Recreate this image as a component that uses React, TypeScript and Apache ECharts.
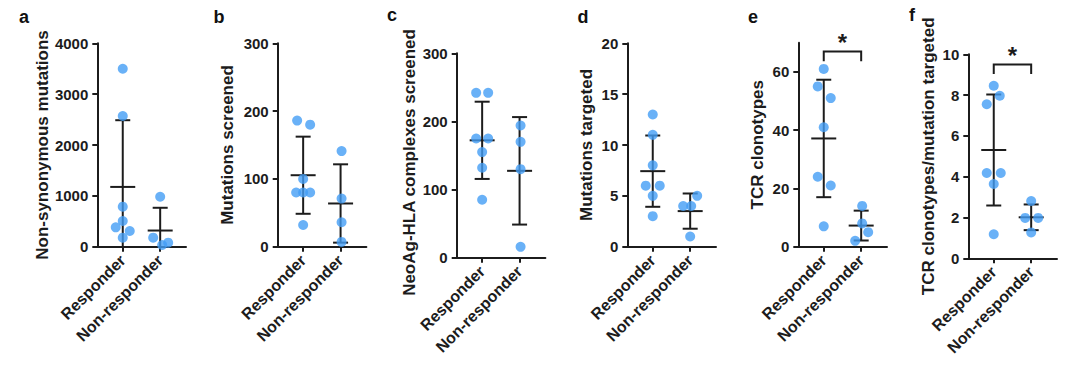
import React, { useEffect, useRef } from "react";
import * as echarts from "echarts";

const categories = ["Responder", "Non-responder"];
const panelLetters = ["a", "b", "c", "d", "e", "f"];
const yTitles = [
  "Non-synonymous mutations",
  "Mutations screened",
  "NeoAg-HLA complexes screened",
  "Mutations targeted",
  "TCR clonotypes",
  "TCR clonotypes/mutation targeted",
];

// values per panel (responder / non-responder)
const nonsynResponder = [3500, 2570, 787, 505, 381, 309, 177];
const nonsynNonResponder = [983, 177, 33, 79];
const screenedResponder = [186, 180, 100, 80, 80, 80, 32];
const screenedNonResponder = [141, 71, 36, 7];
const complexesResponder = [242, 242, 175, 175, 155, 132, 85];
const complexesNonResponder = [194, 170, 130, 16];
const targetedResponder = [13, 11, 8, 6, 6, 5, 3];
const targetedNonResponder = [4, 4, 5, 1];
const clonotypesResponder = [61, 55, 51, 41, 24, 21, 7];
const clonotypesNonResponder = [14, 8, 5, 2];
const perMutationResponder = [8.46, 7.97, 7.55, 4.18, 4.18, 3.64, 1.18];
const perMutationNonResponder = [2.81, 1.98, 1.98, 1.27];

// y-axis tick labels and axis tops
const yTicks = [
  [0, 1000, 2000, 3000, 4000],
  [0, 100, 200, 300],
  [0, 100, 200, 300],
  [0, 5, 10, 15, 20],
  [0, 20, 40, 60],
  [0, 2, 4, 6, 8, 10],
];
const yMax = [4000, 300, 300, 20, 70, 10];

// significance brackets (panels e and f): [bracket top, leg end]
const sigTop = [null, null, null, null, 67, 9.5];
const sigLeg = [null, null, null, null, 63.6, 9.03];

// horizontal jitter (px) of the dots, same order as values
const jitterResponder = [
  [0, 0, 0, 0, -7, 7, 0],
  [-6, 7, 0, -7, 0, 7, 0],
  [-6, 6, -6, 6, 0, 0, 0],
  [0, 0, 0, -7, 7, 0, 0],
  [0, -6, 7, 0, -6, 7, 0],
  [0, 6, -7, -7, 7, 0, 0],
];
const jitterNonResponder = [
  [0, -7, 2, 8],
  [1, 1, 1, 1],
  [1, 1, 1, 1],
  [-7, 1, 7, 0],
  [1, 1, 7, -6],
  [0, -6, 7, 0],
];

const responders = [nonsynResponder, screenedResponder, complexesResponder, targetedResponder, clonotypesResponder, perMutationResponder];
const nonResponders = [nonsynNonResponder, screenedNonResponder, complexesNonResponder, targetedNonResponder, clonotypesNonResponder, perMutationNonResponder];

// layout
const gridLeft = [97.3, 277.7, 456.7, 627.3, 798.3, 968.3];
const gridTop = [43.3, 43.3, 53.3, 43.3, 42.7, 54.3];
const gridBottomY = [246.7, 246.7, 257.7, 246.7, 246.7, 258.3];
const gridWidth = 88.7;
const nameGaps = [46, 42, 39, 32, 32, 31];
const namePads = [0, 0, 14, 0, 0, 0];
const letterPos = [[24, 17], [219, 17], [392, 15], [583, 17], [753, 17], [912, 15]];

const FONT = '"Liberation Sans", Arial, Helvetica, sans-serif';
const INK = "#1c1c1c";
const DOT = "#439ef5";

function meanSd(v: number[]) {
  const m = v.reduce((a, b) => a + b, 0) / v.length;
  const s = Math.sqrt(v.reduce((a, b) => a + (b - m) * (b - m), 0) / (v.length - 1));
  return [m, s];
}

export default function App() {
  const ref = useRef<HTMLDivElement>(null);
  useEffect(() => {
    if (!ref.current) return;
    const chart = echarts.init(ref.current, null, { renderer: "svg" });
    const grids: any[] = [];
    const xAxes: any[] = [];
    const yAxes: any[] = [];
    const series: any[] = [];
    const graphics: any[] = [];

    for (let i = 0; i < 6; i++) {
      grids.push({
        left: gridLeft[i],
        top: gridTop[i],
        width: gridWidth,
        height: gridBottomY[i] - gridTop[i],
        containLabel: false,
      });
      xAxes.push({
        gridIndex: i,
        type: "value",
        min: 0.32,
        max: 2.69,
        splitLine: { show: false },
        axisLine: { show: true, onZero: false, lineStyle: { color: INK, width: 2 } },
        axisTick: { show: true, customValues: [1, 2], length: 5, lineStyle: { color: INK, width: 2 } },
        axisLabel: {
          customValues: [1, 2],
          formatter: (v: number) => categories[Math.round(v) - 1],
          rotate: 45,
          margin: 11,
          fontSize: 16,
          fontWeight: "bold",
          fontFamily: FONT,
          color: INK,
        },
      });
      yAxes.push({
        gridIndex: i,
        type: "value",
        min: 0,
        max: yMax[i],
        name: yTitles[i],
        nameLocation: "middle",
        nameGap: nameGaps[i],
        nameTextStyle: {
          fontSize: 17,
          fontWeight: "bold",
          fontFamily: FONT,
          color: INK,
          padding: [0, namePads[i], 0, 0],
        },
        splitLine: { show: false },
        axisLine: { show: true, onZero: false, lineStyle: { color: INK, width: 2 } },
        axisTick: { show: true, customValues: yTicks[i], length: 5, lineStyle: { color: INK, width: 2 } },
        axisLabel: {
          customValues: yTicks[i],
          formatter: (v: number) => String(v),
          margin: 9,
          fontSize: 15,
          fontWeight: "bold",
          fontFamily: FONT,
          color: INK,
        },
      });

      const r = responders[i];
      const n = nonResponders[i];
      const pts: any[] = [];
      r.forEach((v, k) => pts.push({ value: [1, v], symbolOffset: [jitterResponder[i][k], 0] }));
      n.forEach((v, k) => pts.push({ value: [2, v], symbolOffset: [jitterNonResponder[i][k], 0] }));
      series.push({
        type: "scatter",
        xAxisIndex: i,
        yAxisIndex: i,
        symbol: "circle",
        symbolSize: 10,
        itemStyle: { color: DOT },
        z: 5,
        data: pts,
      });

      const [rm, rs] = meanSd(r);
      const [nm, ns] = meanSd(n);
      series.push({
        type: "custom",
        xAxisIndex: i,
        yAxisIndex: i,
        z: 3,
        encode: { x: 0, y: 1 },
        data: [
          [1, rm, rs],
          [2, nm, ns],
        ],
        renderItem: (params: any, api: any) => {
          const x = api.value(0);
          const m = api.value(1);
          const s = api.value(2);
          const lowV = Math.max(0, m - s);
          const top = api.coord([x, m + s]);
          const low = api.coord([x, lowV]);
          const mid = api.coord([x, m]);
          const st = { stroke: INK, lineWidth: 2 };
          const children: any[] = [
            { type: "line", shape: { x1: top[0], y1: top[1], x2: low[0], y2: low[1] }, style: st },
            { type: "line", shape: { x1: mid[0] - 12.5, y1: mid[1], x2: mid[0] + 12.5, y2: mid[1] }, style: st },
            { type: "line", shape: { x1: top[0] - 7.5, y1: top[1], x2: top[0] + 7.5, y2: top[1] }, style: st },
          ];
          if (m - s > 0) {
            children.push({ type: "line", shape: { x1: low[0] - 7.5, y1: low[1], x2: low[0] + 7.5, y2: low[1] }, style: st });
          }
          return { type: "group", children };
        },
      });

      if (sigTop[i] != null) {
        series.push({
          type: "custom",
          xAxisIndex: i,
          yAxisIndex: i,
          z: 3,
          encode: { x: 0, y: 1 },
          clip: false,
          data: [[1, sigTop[i], sigLeg[i], 2]],
          renderItem: (params: any, api: any) => {
            const x1 = api.value(0);
            const t = api.value(1);
            const l = api.value(2);
            const x2 = api.value(3);
            const a = api.coord([x1, l]);
            const b = api.coord([x1, t]);
            const c = api.coord([x2, t]);
            const d = api.coord([x2, l]);
            return {
              type: "group",
              children: [
                {
                  type: "polyline",
                  shape: { points: [a, b, c, d] },
                  style: { stroke: INK, lineWidth: 2, fill: null },
                },
                {
                  type: "text",
                  style: {
                    text: "*",
                    x: (b[0] + c[0]) / 2,
                    y: b[1] - 9,
                    align: "center",
                    verticalAlign: "middle",
                    font: `bold 24px ${FONT}`,
                    fill: INK,
                  },
                },
              ],
            };
          },
        });
      }

      graphics.push({
        type: "text",
        style: {
          text: panelLetters[i],
          x: letterPos[i][0],
          y: letterPos[i][1],
          align: "center",
          verticalAlign: "middle",
          font: `bold 18px ${FONT}`,
          fill: "#111",
        },
      });
    }

    chart.setOption({
      animation: false,
      backgroundColor: "#ffffff",
      grid: grids,
      xAxis: xAxes,
      yAxis: yAxes,
      series,
      graphic: graphics,
    });
    return () => chart.dispose();
  }, []);
  return <div ref={ref} style={{ position: "fixed", left: 0, top: 0, width: 1080, height: 367 }} />;
}
